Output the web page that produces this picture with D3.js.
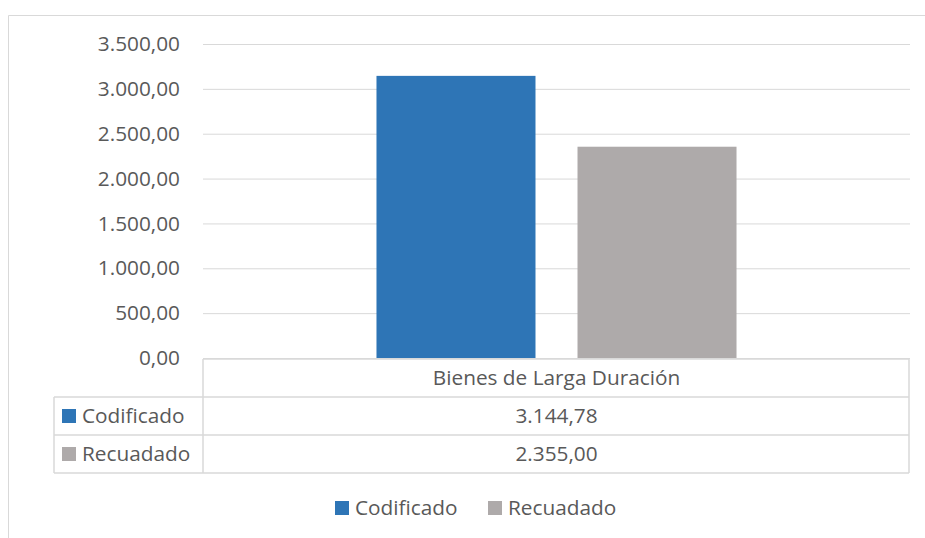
<!DOCTYPE html>
<html>
<head>
<meta charset="utf-8">
<script src="https://cdn.jsdelivr.net/npm/d3@7"></script>
<style>
    body { margin: 0; background: #fff; }
    text { font-family: "Open Sans", "Noto Sans", sans-serif; fill: #595959; }
</style>
</head>
<body>
<div id="chart"></div>
<script>
// data
var categories = ['Bienes de Larga Duración'];
var seriesNames = ['Codificado', 'Recuadado'];
var codificado = [3144.78];
var recuadado = [2355.00];
var yTicks = [0, 500, 1000, 1500, 2000, 2500, 3000, 3500];
var colors = ['#2e75b6', '#aeaaaa'];

var svgWidth = 925;
var svgHeight = 538;
var plot = { left: 203, right: 910, top: 44, bottom: 358 };
var rowH = 38;
var tableLeft = 54;
var fontSize = 20.8;

var locale = d3.formatLocale({ decimal: ',', thousands: '.', grouping: [3], currency: ['', ''] });
var fmt = locale.format(',.2f');

var svg = d3.select('#chart').append('svg')
    .attr('width', svgWidth)
    .attr('height', svgHeight);

// chart area border (runs off the page right and bottom)
svg.append('path')
    .attr('d', 'M8.5,' + svgHeight + 'V15.5H' + svgWidth)
    .attr('fill', 'none')
    .attr('stroke', '#d9d9d9')
    .attr('stroke-width', 1);

var y = d3.scaleLinear().domain([0, 3500]).range([plot.bottom, plot.top]);

var x0 = d3.scaleBand().domain(categories).range([plot.left, plot.right]).padding(0);
var x1 = d3.scaleBand().domain(seriesNames).range([0, x0.bandwidth()])
    .paddingInner(0.209).paddingOuter(0.863);

// gridlines + labels
var yAxis = d3.axisLeft(y).tickValues(yTicks).tickFormat(fmt)
    .tickSize(-(plot.right - plot.left)).tickPadding(23);

var gAxis = svg.append('g')
    .attr('transform', 'translate(' + plot.left + ',0)')
    .call(yAxis);
gAxis.select('.domain').remove();
gAxis.selectAll('.tick line').attr('stroke', '#d9d9d9').attr('stroke-width', 1);
gAxis.selectAll('.tick text')
    .style('font-size', fontSize + 'px')
    .style('font-family', '"Open Sans", sans-serif')
    .attr('fill', '#595959');

// bars
var values = [codificado, recuadado];
var rows = [];
categories.forEach(function(c, ci) {
    seriesNames.forEach(function(s, si) {
        rows.push({ cat: c, series: s, value: values[si][ci], color: colors[si] });
    });
});

svg.selectAll('rect.bar')
    .data(rows)
    .enter()
    .append('rect')
    .attr('class', 'bar')
    .attr('x', function(d) { return x0(d.cat) + x1(d.series); })
    .attr('width', x1.bandwidth())
    .attr('y', function(d) { return y(d.value); })
    .attr('height', function(d) { return y(0) - y(d.value); })
    .attr('fill', function(d) { return d.color; });

// data table
var t0 = plot.bottom + 1;
var tbl = svg.append('g').attr('fill', 'none').attr('stroke', '#d9d9d9').attr('stroke-width', 1.5);
tbl.append('path').attr('d', 'M' + plot.left + ',' + t0 + 'H' + (plot.right - 1));
seriesNames.forEach(function(s, i) {
    var yy = t0 + rowH * (i + 1);
    tbl.append('path').attr('d', 'M' + tableLeft + ',' + yy + 'H' + (plot.right - 1));
});
var tEnd = t0 + rowH * (seriesNames.length + 1);
tbl.append('path').attr('d', 'M' + tableLeft + ',' + tEnd + 'H' + (plot.right - 1));
tbl.append('path').attr('d', 'M' + tableLeft + ',' + (t0 + rowH) + 'V' + tEnd);
tbl.append('path').attr('d', 'M' + plot.left + ',' + t0 + 'V' + tEnd);
tbl.append('path').attr('d', 'M' + (plot.right - 1) + ',' + t0 + 'V' + tEnd);

categories.forEach(function(c) {
    svg.append('text')
        .attr('x', x0(c) + x0.bandwidth() / 2)
        .attr('y', t0 + rowH / 2)
        .attr('dy', '0.35em')
        .attr('text-anchor', 'middle')
        .style('font-size', fontSize + 'px')
        .text(c);
});

seriesNames.forEach(function(s, si) {
    var cy = t0 + rowH * (si + 1) + rowH / 2;
    svg.append('rect')
        .attr('x', 62).attr('y', cy - 7)
        .attr('width', 14).attr('height', 14)
        .attr('fill', colors[si]);
    svg.append('text')
        .attr('x', 82).attr('y', cy)
        .attr('dy', '0.35em')
        .style('font-size', fontSize + 'px')
        .text(s);
    categories.forEach(function(c, ci) {
        svg.append('text')
            .attr('x', x0(c) + x0.bandwidth() / 2)
            .attr('y', cy)
            .attr('dy', '0.35em')
            .attr('text-anchor', 'middle')
            .style('font-size', fontSize + 'px')
            .text(fmt(values[si][ci]));
    });
});

// legend
var legend = svg.append('g').attr('transform', 'translate(0,508)');
var lx = [335, 488];
seriesNames.forEach(function(s, i) {
    legend.append('rect')
        .attr('x', lx[i]).attr('y', -7)
        .attr('width', 14).attr('height', 14)
        .attr('fill', colors[i]);
    legend.append('text')
        .attr('x', lx[i] + 20).attr('y', 0)
        .attr('dy', '0.35em')
        .style('font-size', fontSize + 'px')
        .text(s);
});
</script>
</body>
</html>
